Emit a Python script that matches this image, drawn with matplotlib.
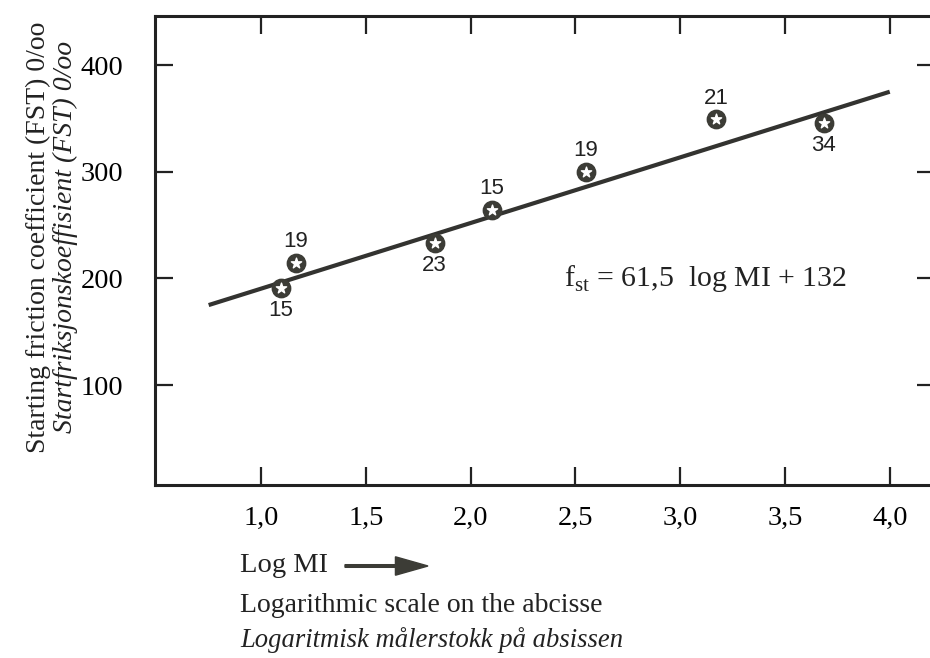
import numpy as np
import matplotlib.pyplot as plt

# data
log_mi = [1.094, 1.167, 1.828, 2.102, 2.551, 3.171, 3.686]
fst = [190.7, 214.7, 232.9, 264.1, 300.0, 349.1, 345.4]
counts = ["15", "19", "23", "15", "19", "21", "34"]
label_above = [False, True, False, True, True, True, False]

fit_x = [0.75, 4.0]
fit_y = [175, 375]

xticks = [1.0, 1.5, 2.0, 2.5, 3.0, 3.5, 4.0]
xtick_labels = ["1,0", "1,5", "2,0", "2,5", "3,0", "3,5", "4,0"]
yticks = [100, 200, 300, 400]

plt.rcParams['font.family'] = ['Liberation Serif', 'DejaVu Serif']
plt.rcParams['mathtext.fontset'] = 'custom'
plt.rcParams['mathtext.rm'] = 'Liberation Serif'

fig = plt.figure(figsize=(9.3, 6.58), dpi=100)
ax = fig.add_axes([0.1667, 0.2629, 0.8387, 0.7128])

ink = "#222222"
ax.plot(fit_x, fit_y, color="#333330", lw=3, solid_capstyle="butt", zorder=2)
ax.scatter(log_mi, fst, s=175, color="#3c3c36", zorder=3)
ax.scatter(log_mi, fst, s=60, marker="*", color="white", zorder=4)

for x, y, c, up in zip(log_mi, fst, counts, label_above):
    off = 20 if up else -21
    ax.text(x, y + off, c, ha="center", va="center", fontsize=16,
            family="Liberation Sans", color=ink)

ax.text(3.12, 200, r"f$_{\mathregular{st}}$ = 61,5  log MI + 132",
        ha="center", va="center", fontsize=21.5, color=ink)

ax.set_xlim(0.494, 4.216)
ax.set_ylim(6.3, 446)
ax.set_xticks(xticks)
ax.set_xticklabels(xtick_labels)
ax.set_yticks(yticks)
ax.tick_params(axis="both", direction="in", length=13, width=1.6, color=ink,
               labelsize=20.5, top=True, right=True)
ax.tick_params(axis="x", pad=15)
ax.tick_params(axis="y", pad=23)
for sp in ax.spines.values():
    sp.set_linewidth(2.2)
    sp.set_color(ink)

fig.text(38 / 930, 1 - 237 / 658, "Starting friction coefficient (FST) 0/oo",
         rotation=90, ha="center", va="center", fontsize=20, color=ink)
fig.text(65 / 930, 1 - 237 / 658, "Startfriksjonskoeffisient (FST) 0/oo",
         rotation=90, ha="center", va="center", fontsize=20, style="italic", color=ink)

fig.text(240 / 930, 1 - 566 / 658, "Log MI", ha="left", va="center", fontsize=20.5, color=ink)
fig.patches.append(plt.matplotlib.patches.FancyArrow(
    345 / 930, 1 - 566 / 658, 83 / 930, 0, width=0.004, head_width=0.028,
    head_length=0.035, length_includes_head=True, color="#3c3c36",
    transform=fig.transFigure, figure=fig))
fig.text(240 / 930, 1 - 606 / 658, "Logarithmic scale on the abcisse",
         ha="left", va="center", fontsize=20, color=ink)
fig.text(240 / 930, 1 - 640 / 658, "Logaritmisk målerstokk på absissen",
         ha="left", va="center", fontsize=19.2, style="italic", color=ink)

fig.savefig("out.png", dpi=100)
